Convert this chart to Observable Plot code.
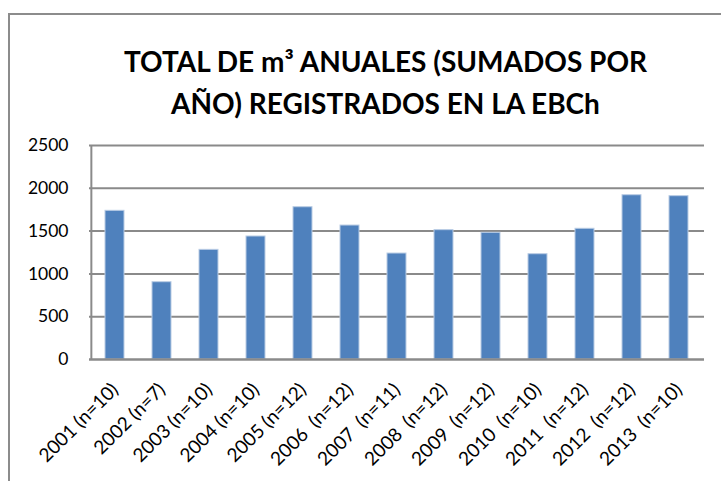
<!DOCTYPE html>
<html>
<head>
<meta charset="utf-8">
<script src="https://cdn.jsdelivr.net/npm/d3@7"></script>
<script src="https://cdn.jsdelivr.net/npm/@observablehq/plot@0.6"></script>
<style>
  html, body { margin: 0; padding: 0; background: #fff; }
  #wrap { position: relative; width: 721px; height: 481px; overflow: hidden; font-family: Lato, "Open Sans", sans-serif; }
  #frame { position: absolute; left: 8px; top: 13px; width: 800px; height: 600px; border-top: 2px solid #8c8c8c; border-left: 2px solid #8c8c8c; box-sizing: border-box; }
  #title { position: relative; height: 130px; box-sizing: border-box; padding-top: 40px; padding-left: 50px; text-align: center; font-weight: bold; font-size: 28px; line-height: 42px; color: #000; }
  #chart { position: relative; }
</style>
</head>
<body>
<div id="wrap">
  <div id="frame"></div>
  <div id="title">TOTAL DE m³ ANUALES (SUMADOS POR<br>AÑO) REGISTRADOS EN LA EBCh</div>
  <div id="chart"></div>
</div>
<script>
const categories = [
  "2001 (n=10)", "2002 (n=7)", "2003 (n=10)", "2004 (n=10)", "2005 (n=12)",
  "2006 \u00a0(n=12)", "2007 \u00a0(n=11)", "2008 \u00a0(n=12)", "2009 \u00a0(n=12)",
  "2010 \u00a0(n=10)", "2011 \u00a0(n=12)", "2012 \u00a0(n=12)", "2013 \u00a0(n=10)"
];
const values = [1737, 903, 1281, 1437, 1779, 1565, 1238, 1511, 1480, 1230, 1527, 1919, 1908];
const yTicks = [0, 500, 1000, 1500, 2000, 2500];

const data = categories.map((c, i) => ({cat: c, value: values[i]}));

const chart = Plot.plot({
  width: 721,
  height: 351,
  marginLeft: 89,
  marginRight: 17,
  marginTop: 15,
  marginBottom: 122,
  style: { fontFamily: "Lato, 'Open Sans', sans-serif", fontSize: "17px", color: "#000", background: "transparent", overflow: "visible" },
  x: { domain: categories, paddingInner: 0.6, paddingOuter: 0.3, label: null },
  y: { domain: [0, 2500], label: null },
  marks: [
    Plot.ruleY(yTicks.filter(d => d > 0), { stroke: "#8a8a8a", strokeWidth: 2 }),
    Plot.barY(data, { x: "cat", y: "value", fill: "#4f81bd", stroke: "#b9cce4", strokeWidth: 1 }),
    Plot.ruleX([0], { x: () => categories[0], dx: -23.65, y1: 0, y2: 2500, stroke: "#8a8a8a", strokeWidth: 2 }),
    Plot.ruleY([0], { stroke: "#8a8a8a", strokeWidth: 2.5 }),
    Plot.axisY({ ticks: yTicks, tickSize: 0, tickPadding: 21, fontSize: 17.5, tickFormat: d => String(d) }),
    Plot.axisX({ tickSize: 0, tickPadding: 27, tickRotate: -45, fontSize: 19 })
  ]
});
document.getElementById("chart").appendChild(chart);
</script>
</body>
</html>
